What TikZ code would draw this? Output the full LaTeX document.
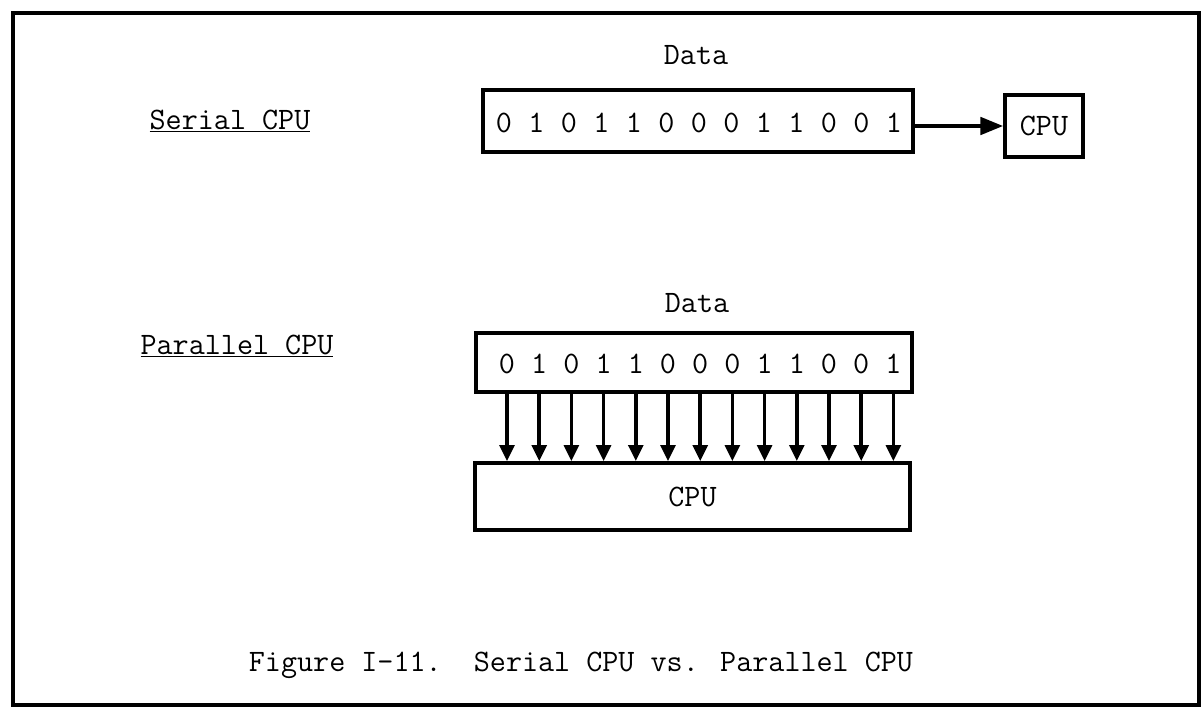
\documentclass[tikz,border=0pt]{standalone}
\usetikzlibrary{arrows.meta}
\begin{document}
\begin{tikzpicture}[x=0.75pt,y=-0.75pt,
  txt/.style={font=\ttfamily\fontsize{23.4}{26}\selectfont, inner sep=0pt},
  boxed/.style={draw, line width=2.8pt, inner sep=0pt},
  bit/.style={txt, anchor=center},
  parr/.style={line width=2.6pt, -{Triangle[length=12pt,width=11pt]}},
  sarr/.style={line width=2.8pt, -{Triangle[length=17pt,width=13pt]}}]
\useasboundingbox (0,0) rectangle (1202,717);
% frame
\draw[line width=2.8pt] (13,13) rectangle (1199,705);
% serial
\node[txt] (slabel) at (230,121) {\underline{Serial CPU}};
\node[txt] (data1) at (696,55) {Data};
\node[boxed, minimum width=322.5pt, minimum height=46.5pt] (sbox) at (698,121) {};
\foreach \d [count=\i] in {0,1,0,1,1,0,0,0,1,1,0,0,1}
  \node[bit] (s\i) at ({504+(\i-1)*32.5},123) {\d};
\node[boxed, txt, minimum width=58.5pt, minimum height=46.5pt] (scpu) at (1044,126) {CPU};
\draw[sarr] (sbox.east |- scpu.west) -- (scpu.west);
% parallel
\node[txt] (plabel) at (237,346) {\underline{Parallel CPU}};
\node[txt] (data2) at (697,303) {Data};
\node[boxed, minimum width=327pt, minimum height=44.25pt] (pbox) at (694,362.5) {};
\node[boxed, txt, minimum width=326.25pt, minimum height=50.25pt] (pcpu) at (692.5,496.5) {CPU};
\foreach \d [count=\i] in {0,1,0,1,1,0,0,0,1,1,0,0,1}{
  \node[bit] (p\i) at ({507+(\i-1)*32.2},364) {\d};
  \draw[parr] (pbox.south -| p\i) -- (pcpu.north -| p\i);
}
% caption
\node[txt] (cap) at (581,665) {Figure I-11.\ \ Serial CPU vs. Parallel CPU};
\end{tikzpicture}
\end{document}
